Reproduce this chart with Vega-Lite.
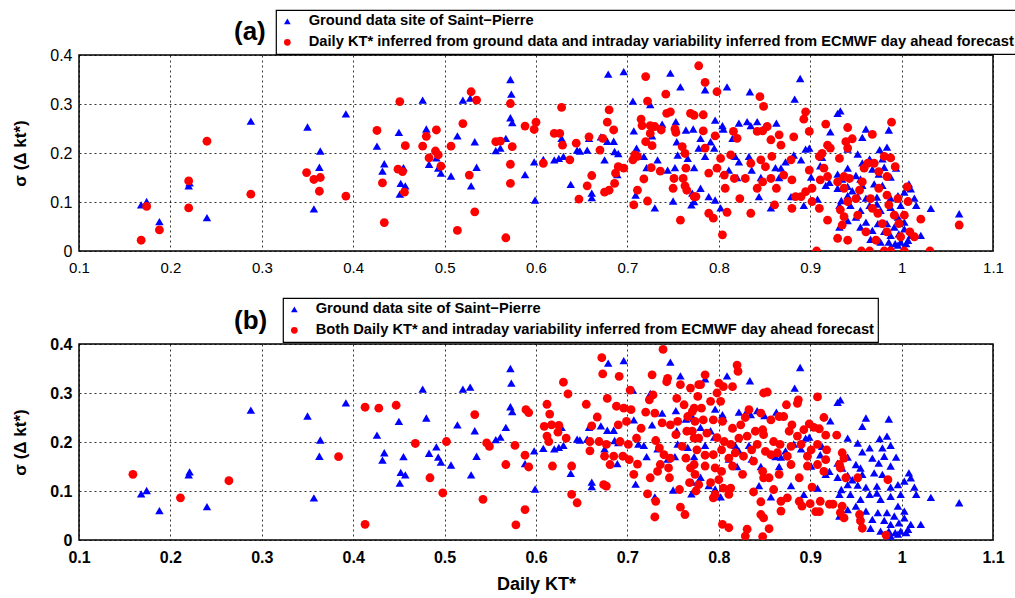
{
  "$schema": "https://vega.github.io/schema/vega-lite/v6.json",
  "padding": {"left": 11, "top": 8, "right": 0, "bottom": 0},
  "background": "white",
  "datasets": {
    "ground": [
      {"x":0.168,"y":0.094,"s":"g"},{"x":0.174,"y":0.101,"s":"g"},{"x":0.188,"y":0.060,"s":"g"},{"x":0.220,"y":0.133,"s":"g"},{"x":0.221,"y":0.139,"s":"g"},
      {"x":0.240,"y":0.068,"s":"g"},{"x":0.288,"y":0.265,"s":"g"},{"x":0.350,"y":0.253,"s":"g"},{"x":0.357,"y":0.086,"s":"g"},{"x":0.364,"y":0.204,"s":"g"},
      {"x":0.363,"y":0.171,"s":"g"},{"x":0.392,"y":0.280,"s":"g"},{"x":0.426,"y":0.214,"s":"g"},{"x":0.434,"y":0.178,"s":"g"},{"x":0.432,"y":0.163,"s":"g"},
      {"x":0.450,"y":0.242,"s":"g"},{"x":0.455,"y":0.170,"s":"g"},{"x":0.452,"y":0.138,"s":"g"},{"x":0.457,"y":0.133,"s":"g"},{"x":0.451,"y":0.116,"s":"g"},
      {"x":0.476,"y":0.308,"s":"g"},{"x":0.480,"y":0.249,"s":"g"},{"x":0.483,"y":0.177,"s":"g"},{"x":0.491,"y":0.190,"s":"g"},{"x":0.493,"y":0.169,"s":"g"},
      {"x":0.496,"y":0.159,"s":"g"},{"x":0.507,"y":0.153,"s":"g"},{"x":0.514,"y":0.235,"s":"g"},{"x":0.520,"y":0.308,"s":"g"},{"x":0.528,"y":0.312,"s":"g"},
      {"x":0.529,"y":0.133,"s":"g"},{"x":0.533,"y":0.223,"s":"g"},{"x":0.535,"y":0.171,"s":"g"},{"x":0.556,"y":0.205,"s":"g"},{"x":0.561,"y":0.210,"s":"g"},
      {"x":0.567,"y":0.230,"s":"g"},{"x":0.572,"y":0.350,"s":"g"},{"x":0.573,"y":0.320,"s":"g"},{"x":0.572,"y":0.272,"s":"g"},{"x":0.574,"y":0.262,"s":"g"},
      {"x":0.588,"y":0.156,"s":"g"},{"x":0.598,"y":0.182,"s":"g"},{"x":0.599,"y":0.104,"s":"g"},{"x":0.608,"y":0.187,"s":"g"},{"x":0.620,"y":0.186,"s":"g"},
      {"x":0.625,"y":0.189,"s":"g"},{"x":0.630,"y":0.193,"s":"g"},{"x":0.628,"y":0.230,"s":"g"},{"x":0.638,"y":0.136,"s":"g"},{"x":0.645,"y":0.206,"s":"g"},
      {"x":0.648,"y":0.204,"s":"g"},{"x":0.656,"y":0.206,"s":"g"},{"x":0.658,"y":0.230,"s":"g"},{"x":0.661,"y":0.118,"s":"g"},{"x":0.661,"y":0.109,"s":"g"},
      {"x":0.671,"y":0.233,"s":"g"},{"x":0.675,"y":0.186,"s":"g"},{"x":0.678,"y":0.224,"s":"g"},{"x":0.679,"y":0.361,"s":"g"},{"x":0.685,"y":0.224,"s":"g"},
      {"x":0.686,"y":0.203,"s":"g"},{"x":0.690,"y":0.199,"s":"g"},{"x":0.689,"y":0.156,"s":"g"},{"x":0.696,"y":0.366,"s":"g"},{"x":0.706,"y":0.306,"s":"g"},
      {"x":0.707,"y":0.245,"s":"g"},{"x":0.710,"y":0.210,"s":"g"},{"x":0.712,"y":0.196,"s":"g"},{"x":0.718,"y":0.193,"s":"g"},{"x":0.721,"y":0.170,"s":"g"},
      {"x":0.709,"y":0.114,"s":"g"},{"x":0.725,"y":0.299,"s":"g"},{"x":0.727,"y":0.235,"s":"g"},{"x":0.730,"y":0.088,"s":"g"},{"x":0.733,"y":0.186,"s":"g"},
      {"x":0.738,"y":0.259,"s":"g"},{"x":0.744,"y":0.165,"s":"g"},{"x":0.747,"y":0.363,"s":"g"},{"x":0.750,"y":0.102,"s":"g"},{"x":0.752,"y":0.170,"s":"g"},
      {"x":0.753,"y":0.264,"s":"g"},{"x":0.758,"y":0.335,"s":"g"},{"x":0.754,"y":0.223,"s":"g"},{"x":0.755,"y":0.196,"s":"g"},{"x":0.764,"y":0.247,"s":"g"},
      {"x":0.766,"y":0.189,"s":"g"},{"x":0.770,"y":0.094,"s":"g"},{"x":0.772,"y":0.249,"s":"g"},{"x":0.773,"y":0.170,"s":"g"},{"x":0.778,"y":0.210,"s":"g"},
      {"x":0.785,"y":0.329,"s":"g"},{"x":0.809,"y":0.335,"s":"g"},{"x":0.834,"y":0.325,"s":"g"},{"x":0.889,"y":0.352,"s":"g"},{"x":0.883,"y":0.310,"s":"g"},
      {"x":0.796,"y":0.267,"s":"g"},{"x":0.804,"y":0.256,"s":"g"},{"x":0.805,"y":0.249,"s":"g"},{"x":0.822,"y":0.261,"s":"g"},{"x":0.831,"y":0.264,"s":"g"},
      {"x":0.835,"y":0.256,"s":"g"},{"x":0.842,"y":0.264,"s":"g"},{"x":0.850,"y":0.254,"s":"g"},{"x":0.863,"y":0.261,"s":"g"},{"x":0.780,"y":0.230,"s":"g"},
      {"x":0.791,"y":0.223,"s":"g"},{"x":0.785,"y":0.193,"s":"g"},{"x":0.795,"y":0.210,"s":"g"},{"x":0.771,"y":0.118,"s":"g"},{"x":0.780,"y":0.128,"s":"g"},
      {"x":0.789,"y":0.111,"s":"g"},{"x":0.796,"y":0.104,"s":"g"},{"x":0.802,"y":0.088,"s":"g"},{"x":0.815,"y":0.230,"s":"g"},{"x":0.818,"y":0.193,"s":"g"},
      {"x":0.822,"y":0.182,"s":"g"},{"x":0.811,"y":0.165,"s":"g"},{"x":0.820,"y":0.150,"s":"g"},{"x":0.833,"y":0.193,"s":"g"},{"x":0.836,"y":0.165,"s":"g"},
      {"x":0.846,"y":0.150,"s":"g"},{"x":0.844,"y":0.111,"s":"g"},{"x":0.857,"y":0.088,"s":"g"},{"x":0.862,"y":0.170,"s":"g"},{"x":0.868,"y":0.169,"s":"g"},
      {"x":0.866,"y":0.150,"s":"g"},{"x":0.873,"y":0.182,"s":"g"},{"x":0.879,"y":0.111,"s":"g"},{"x":0.882,"y":0.196,"s":"g"},{"x":0.890,"y":0.186,"s":"g"},
      {"x":0.893,"y":0.093,"s":"g"},{"x":0.895,"y":0.208,"s":"g"},{"x":0.899,"y":0.210,"s":"g"},{"x":0.773,"y":0.101,"s":"g"},
      {"x":0.933,"y":0.286,"s":"g"},{"x":0.930,"y":0.281,"s":"g"},{"x":0.922,"y":0.243,"s":"g"},{"x":0.961,"y":0.249,"s":"g"},{"x":0.986,"y":0.247,"s":"g"},
      {"x":0.957,"y":0.232,"s":"g"},{"x":0.941,"y":0.208,"s":"g"},{"x":0.952,"y":0.198,"s":"g"},{"x":0.965,"y":0.188,"s":"g"},{"x":0.976,"y":0.207,"s":"g"},
      {"x":0.984,"y":0.212,"s":"g"},{"x":0.988,"y":0.193,"s":"g"},{"x":0.979,"y":0.188,"s":"g"},{"x":0.957,"y":0.180,"s":"g"},{"x":0.968,"y":0.167,"s":"g"},
      {"x":0.981,"y":0.171,"s":"g"},{"x":0.994,"y":0.169,"s":"g"},{"x":0.941,"y":0.169,"s":"g"},{"x":0.930,"y":0.157,"s":"g"},{"x":0.935,"y":0.147,"s":"g"},
      {"x":0.950,"y":0.154,"s":"g"},{"x":0.955,"y":0.147,"s":"g"},{"x":0.975,"y":0.157,"s":"g"},{"x":0.988,"y":0.151,"s":"g"},{"x":0.921,"y":0.140,"s":"g"},
      {"x":0.930,"y":0.128,"s":"g"},{"x":0.941,"y":0.132,"s":"g"},{"x":0.946,"y":0.123,"s":"g"},{"x":0.957,"y":0.134,"s":"g"},{"x":0.970,"y":0.137,"s":"g"},
      {"x":0.979,"y":0.134,"s":"g"},{"x":1.008,"y":0.137,"s":"g"},{"x":1.010,"y":0.127,"s":"g"},{"x":1.003,"y":0.120,"s":"g"},{"x":0.996,"y":0.113,"s":"g"},
      {"x":0.988,"y":0.108,"s":"g"},{"x":0.973,"y":0.110,"s":"g"},{"x":0.961,"y":0.108,"s":"g"},{"x":0.952,"y":0.112,"s":"g"},{"x":0.941,"y":0.113,"s":"g"},
      {"x":0.934,"y":0.103,"s":"g"},{"x":0.932,"y":0.093,"s":"g"},{"x":0.944,"y":0.093,"s":"g"},{"x":0.955,"y":0.083,"s":"g"},{"x":0.965,"y":0.093,"s":"g"},
      {"x":0.973,"y":0.096,"s":"g"},{"x":0.977,"y":0.083,"s":"g"},{"x":0.988,"y":0.089,"s":"g"},{"x":0.999,"y":0.093,"s":"g"},{"x":1.014,"y":0.108,"s":"g"},
      {"x":1.016,"y":0.093,"s":"g"},{"x":1.032,"y":0.087,"s":"g"},{"x":1.063,"y":0.076,"s":"g"},{"x":0.932,"y":0.049,"s":"g"},{"x":0.941,"y":0.062,"s":"g"},
      {"x":0.950,"y":0.069,"s":"g"},{"x":0.961,"y":0.059,"s":"g"},{"x":0.968,"y":0.042,"s":"g"},{"x":0.974,"y":0.056,"s":"g"},{"x":0.984,"y":0.056,"s":"g"},
      {"x":0.996,"y":0.069,"s":"g"},{"x":1.003,"y":0.059,"s":"g"},{"x":0.992,"y":0.049,"s":"g"},{"x":0.981,"y":0.040,"s":"g"},{"x":0.988,"y":0.032,"s":"g"},
      {"x":0.997,"y":0.035,"s":"g"},{"x":1.003,"y":0.045,"s":"g"},{"x":1.010,"y":0.032,"s":"g"},{"x":1.021,"y":0.032,"s":"g"},{"x":0.986,"y":0.018,"s":"g"},
      {"x":0.993,"y":0.015,"s":"g"},{"x":0.999,"y":0.018,"s":"g"},{"x":1.005,"y":0.015,"s":"g"},{"x":1.007,"y":0.022,"s":"g"},{"x":0.977,"y":0.018,"s":"g"},
      {"x":0.988,"y":0.008,"s":"g"},{"x":0.996,"y":0.012,"s":"g"},{"x":0.966,"y":0.024,"s":"g"},{"x":0.955,"y":0.049,"s":"g"},{"x":0.908,"y":0.106,"s":"g"},
      {"x":0.917,"y":0.134,"s":"g"},{"x":0.901,"y":0.151,"s":"g"},{"x":0.911,"y":0.174,"s":"g"},{"x":0.913,"y":0.191,"s":"g"}
    ],
    "estA": [
      {"x":0.168,"y":0.022,"s":"e"},{"x":0.174,"y":0.091,"s":"e"},{"x":0.188,"y":0.043,"s":"e"},{"x":0.220,"y":0.143,"s":"e"},{"x":0.220,"y":0.088,"s":"e"},
      {"x":0.240,"y":0.224,"s":"e"},{"x":0.288,"y":0.116,"s":"e"},{"x":0.349,"y":0.160,"s":"e"},{"x":0.357,"y":0.146,"s":"e"},{"x":0.364,"y":0.150,"s":"e"},
      {"x":0.363,"y":0.122,"s":"e"},{"x":0.392,"y":0.112,"s":"e"},{"x":0.426,"y":0.246,"s":"e"},{"x":0.432,"y":0.139,"s":"e"},{"x":0.434,"y":0.058,"s":"e"},
      {"x":0.451,"y":0.305,"s":"e"},{"x":0.449,"y":0.167,"s":"e"},{"x":0.454,"y":0.162,"s":"e"},{"x":0.457,"y":0.215,"s":"e"},{"x":0.456,"y":0.120,"s":"e"},
      {"x":0.476,"y":0.214,"s":"e"},{"x":0.480,"y":0.234,"s":"e"},{"x":0.483,"y":0.190,"s":"e"},{"x":0.490,"y":0.204,"s":"e"},{"x":0.493,"y":0.196,"s":"e"},
      {"x":0.491,"y":0.247,"s":"e"},{"x":0.496,"y":0.173,"s":"e"},{"x":0.507,"y":0.214,"s":"e"},{"x":0.514,"y":0.042,"s":"e"},{"x":0.520,"y":0.260,"s":"e"},
      {"x":0.527,"y":0.155,"s":"e"},{"x":0.529,"y":0.325,"s":"e"},{"x":0.535,"y":0.308,"s":"e"},{"x":0.533,"y":0.080,"s":"e"},{"x":0.556,"y":0.223,"s":"e"},
      {"x":0.561,"y":0.224,"s":"e"},{"x":0.567,"y":0.027,"s":"e"},{"x":0.572,"y":0.301,"s":"e"},{"x":0.574,"y":0.213,"s":"e"},{"x":0.572,"y":0.177,"s":"e"},
      {"x":0.572,"y":0.138,"s":"e"},{"x":0.588,"y":0.255,"s":"e"},{"x":0.598,"y":0.248,"s":"e"},{"x":0.600,"y":0.263,"s":"e"},{"x":0.608,"y":0.179,"s":"e"},
      {"x":0.620,"y":0.240,"s":"e"},{"x":0.626,"y":0.240,"s":"e"},{"x":0.628,"y":0.293,"s":"e"},{"x":0.629,"y":0.216,"s":"e"},{"x":0.637,"y":0.186,"s":"e"},
      {"x":0.644,"y":0.220,"s":"e"},{"x":0.647,"y":0.106,"s":"e"},{"x":0.656,"y":0.133,"s":"e"},{"x":0.658,"y":0.233,"s":"e"},{"x":0.661,"y":0.154,"s":"e"},
      {"x":0.670,"y":0.206,"s":"e"},{"x":0.673,"y":0.230,"s":"e"},{"x":0.675,"y":0.120,"s":"e"},{"x":0.678,"y":0.263,"s":"e"},{"x":0.680,"y":0.288,"s":"e"},
      {"x":0.680,"y":0.124,"s":"e"},{"x":0.685,"y":0.247,"s":"e"},{"x":0.686,"y":0.138,"s":"e"},{"x":0.687,"y":0.159,"s":"e"},{"x":0.690,"y":0.172,"s":"e"},
      {"x":0.696,"y":0.169,"s":"e"},{"x":0.706,"y":0.186,"s":"e"},{"x":0.708,"y":0.196,"s":"e"},{"x":0.711,"y":0.193,"s":"e"},{"x":0.711,"y":0.124,"s":"e"},
      {"x":0.707,"y":0.094,"s":"e"},{"x":0.715,"y":0.269,"s":"e"},{"x":0.716,"y":0.256,"s":"e"},{"x":0.718,"y":0.147,"s":"e"},{"x":0.720,"y":0.356,"s":"e"},
      {"x":0.722,"y":0.306,"s":"e"},{"x":0.722,"y":0.102,"s":"e"},{"x":0.720,"y":0.223,"s":"e"},{"x":0.725,"y":0.240,"s":"e"},{"x":0.727,"y":0.215,"s":"e"},
      {"x":0.725,"y":0.256,"s":"e"},{"x":0.730,"y":0.254,"s":"e"},{"x":0.726,"y":0.170,"s":"e"},{"x":0.737,"y":0.247,"s":"e"},{"x":0.736,"y":0.163,"s":"e"},
      {"x":0.742,"y":0.320,"s":"e"},{"x":0.743,"y":0.281,"s":"e"},{"x":0.747,"y":0.284,"s":"e"},{"x":0.752,"y":0.249,"s":"e"},{"x":0.751,"y":0.148,"s":"e"},
      {"x":0.750,"y":0.128,"s":"e"},{"x":0.753,"y":0.242,"s":"e"},{"x":0.758,"y":0.063,"s":"e"},{"x":0.760,"y":0.213,"s":"e"},{"x":0.763,"y":0.199,"s":"e"},
      {"x":0.764,"y":0.169,"s":"e"},{"x":0.761,"y":0.148,"s":"e"},{"x":0.763,"y":0.133,"s":"e"},{"x":0.765,"y":0.124,"s":"e"},{"x":0.769,"y":0.281,"s":"e"},
      {"x":0.773,"y":0.277,"s":"e"},{"x":0.773,"y":0.111,"s":"e"},{"x":0.778,"y":0.378,"s":"e"},
      {"x":0.785,"y":0.344,"s":"e"},{"x":0.798,"y":0.325,"s":"e"},{"x":0.845,"y":0.315,"s":"e"},{"x":0.849,"y":0.295,"s":"e"},{"x":0.895,"y":0.284,"s":"e"},
      {"x":0.893,"y":0.269,"s":"e"},{"x":0.783,"y":0.278,"s":"e"},{"x":0.783,"y":0.245,"s":"e"},{"x":0.816,"y":0.244,"s":"e"},{"x":0.820,"y":0.230,"s":"e"},
      {"x":0.785,"y":0.210,"s":"e"},{"x":0.796,"y":0.235,"s":"e"},{"x":0.802,"y":0.189,"s":"e"},{"x":0.813,"y":0.196,"s":"e"},{"x":0.798,"y":0.169,"s":"e"},
      {"x":0.789,"y":0.159,"s":"e"},{"x":0.806,"y":0.155,"s":"e"},{"x":0.817,"y":0.148,"s":"e"},{"x":0.807,"y":0.128,"s":"e"},{"x":0.775,"y":0.111,"s":"e"},
      {"x":0.789,"y":0.077,"s":"e"},{"x":0.794,"y":0.067,"s":"e"},{"x":0.809,"y":0.079,"s":"e"},{"x":0.804,"y":0.033,"s":"e"},{"x":0.823,"y":0.107,"s":"e"},
      {"x":0.835,"y":0.077,"s":"e"},{"x":0.829,"y":0.148,"s":"e"},{"x":0.835,"y":0.179,"s":"e"},{"x":0.842,"y":0.244,"s":"e"},{"x":0.848,"y":0.245,"s":"e"},
      {"x":0.853,"y":0.254,"s":"e"},{"x":0.857,"y":0.227,"s":"e"},{"x":0.858,"y":0.193,"s":"e"},{"x":0.846,"y":0.186,"s":"e"},{"x":0.851,"y":0.172,"s":"e"},
      {"x":0.842,"y":0.128,"s":"e"},{"x":0.848,"y":0.141,"s":"e"},{"x":0.857,"y":0.148,"s":"e"},{"x":0.863,"y":0.128,"s":"e"},{"x":0.861,"y":0.094,"s":"e"},
      {"x":0.866,"y":0.237,"s":"e"},{"x":0.868,"y":0.216,"s":"e"},{"x":0.871,"y":0.155,"s":"e"},{"x":0.882,"y":0.233,"s":"e"},{"x":0.879,"y":0.186,"s":"e"},
      {"x":0.880,"y":0.145,"s":"e"},{"x":0.884,"y":0.111,"s":"e"},{"x":0.890,"y":0.111,"s":"e"},{"x":0.880,"y":0.087,"s":"e"},{"x":0.895,"y":0.121,"s":"e"},
      {"x":0.899,"y":0.244,"s":"e"},{"x":0.899,"y":0.165,"s":"e"},{"x":0.902,"y":0.101,"s":"e"},{"x":0.907,"y":0.000,"s":"e"},{"x":0.910,"y":0.193,"s":"e"},
      {"x":0.913,"y":0.199,"s":"e"},{"x":0.917,"y":0.259,"s":"e"},{"x":0.919,"y":0.216,"s":"e"},{"x":0.922,"y":0.210,"s":"e"},{"x":0.915,"y":0.169,"s":"e"},
      {"x":0.919,"y":0.152,"s":"e"},{"x":0.911,"y":0.145,"s":"e"},{"x":0.910,"y":0.087,"s":"e"},{"x":0.919,"y":0.063,"s":"e"},{"x":0.930,"y":0.026,"s":"e"},
      {"x":0.941,"y":0.022,"s":"e"},{"x":0.932,"y":0.189,"s":"e"},{"x":0.939,"y":0.223,"s":"e"},{"x":0.941,"y":0.252,"s":"e"},{"x":0.946,"y":0.229,"s":"e"},
      {"x":0.941,"y":0.210,"s":"e"},{"x":0.937,"y":0.152,"s":"e"},{"x":0.943,"y":0.148,"s":"e"},{"x":0.937,"y":0.128,"s":"e"},{"x":0.941,"y":0.101,"s":"e"},
      {"x":0.933,"y":0.084,"s":"e"},{"x":0.937,"y":0.070,"s":"e"},{"x":0.935,"y":0.053,"s":"e"},{"x":0.950,"y":0.107,"s":"e"},{"x":0.952,"y":0.073,"s":"e"},
      {"x":0.961,"y":0.039,"s":"e"},{"x":0.956,"y":0.000,"s":"e"},{"x":0.965,"y":0.000,"s":"e"},{"x":0.981,"y":0.000,"s":"e"},{"x":0.988,"y":0.000,"s":"e"},
      {"x":1.003,"y":0.000,"s":"e"},{"x":1.031,"y":0.000,"s":"e"},{"x":0.968,"y":0.238,"s":"e"},{"x":0.959,"y":0.169,"s":"e"},{"x":0.963,"y":0.179,"s":"e"},
      {"x":0.970,"y":0.179,"s":"e"},{"x":0.975,"y":0.162,"s":"e"},{"x":0.975,"y":0.128,"s":"e"},{"x":0.981,"y":0.193,"s":"e"},{"x":0.988,"y":0.190,"s":"e"},
      {"x":0.989,"y":0.263,"s":"e"},{"x":0.993,"y":0.172,"s":"e"},{"x":0.984,"y":0.114,"s":"e"},{"x":0.986,"y":0.094,"s":"e"},{"x":0.992,"y":0.073,"s":"e"},
      {"x":0.974,"y":0.077,"s":"e"},{"x":0.968,"y":0.087,"s":"e"},{"x":0.979,"y":0.056,"s":"e"},{"x":0.972,"y":0.022,"s":"e"},{"x":0.984,"y":0.039,"s":"e"},
      {"x":0.997,"y":0.056,"s":"e"},{"x":1.003,"y":0.073,"s":"e"},{"x":1.006,"y":0.131,"s":"e"},{"x":1.007,"y":0.101,"s":"e"},{"x":1.009,"y":0.039,"s":"e"},
      {"x":1.014,"y":0.029,"s":"e"},{"x":1.021,"y":0.065,"s":"e"},{"x":0.999,"y":0.029,"s":"e"},{"x":1.063,"y":0.053,"s":"e"},{"x":0.957,"y":0.141,"s":"e"},
      {"x":0.954,"y":0.124,"s":"e"},{"x":0.984,"y":0.152,"s":"e"},{"x":0.996,"y":0.107,"s":"e"},{"x":0.966,"y":0.107,"s":"e"},{"x":0.902,"y":0.128,"s":"e"},
      {"x":0.930,"y":0.141,"s":"e"}
    ],
    "estB": [
      {"x":0.159,"y":0.134,"s":"e"},{"x":0.211,"y":0.086,"s":"e"},{"x":0.264,"y":0.121,"s":"e"},{"x":0.384,"y":0.170,"s":"e"},{"x":0.413,"y":0.271,"s":"e"},
      {"x":0.428,"y":0.269,"s":"e"},{"x":0.413,"y":0.032,"s":"e"},{"x":0.447,"y":0.275,"s":"e"},{"x":0.468,"y":0.197,"s":"e"},{"x":0.484,"y":0.127,"s":"e"},
      {"x":0.498,"y":0.096,"s":"e"},{"x":0.502,"y":0.201,"s":"e"},{"x":0.533,"y":0.256,"s":"e"},{"x":0.542,"y":0.083,"s":"e"},{"x":0.546,"y":0.198,"s":"e"},
      {"x":0.549,"y":0.191,"s":"e"},{"x":0.567,"y":0.154,"s":"e"},{"x":0.577,"y":0.193,"s":"e"},{"x":0.578,"y":0.031,"s":"e"},{"x":0.588,"y":0.173,"s":"e"},
      {"x":0.588,"y":0.062,"s":"e"},{"x":0.589,"y":0.266,"s":"e"},{"x":0.592,"y":0.260,"s":"e"},{"x":0.592,"y":0.149,"s":"e"},{"x":0.609,"y":0.232,"s":"e"},
      {"x":0.612,"y":0.277,"s":"e"},{"x":0.615,"y":0.257,"s":"e"},{"x":0.612,"y":0.212,"s":"e"},{"x":0.614,"y":0.201,"s":"e"},{"x":0.617,"y":0.235,"s":"e"},
      {"x":0.618,"y":0.151,"s":"e"},{"x":0.625,"y":0.234,"s":"e"},{"x":0.624,"y":0.220,"s":"e"},{"x":0.630,"y":0.322,"s":"e"},{"x":0.633,"y":0.208,"s":"e"},
      {"x":0.635,"y":0.298,"s":"e"},{"x":0.639,"y":0.151,"s":"e"},{"x":0.639,"y":0.093,"s":"e"},{"x":0.645,"y":0.076,"s":"e"},{"x":0.655,"y":0.277,"s":"e"},
      {"x":0.659,"y":0.201,"s":"e"},{"x":0.659,"y":0.182,"s":"e"},{"x":0.661,"y":0.233,"s":"e"},{"x":0.667,"y":0.251,"s":"e"},{"x":0.669,"y":0.201,"s":"e"},
      {"x":0.672,"y":0.372,"s":"e"},{"x":0.673,"y":0.339,"s":"e"},{"x":0.674,"y":0.113,"s":"e"},{"x":0.677,"y":0.110,"s":"e"},{"x":0.678,"y":0.289,"s":"e"},
      {"x":0.677,"y":0.195,"s":"e"},{"x":0.675,"y":0.171,"s":"e"},{"x":0.681,"y":0.154,"s":"e"},{"x":0.685,"y":0.171,"s":"e"},{"x":0.690,"y":0.235,"s":"e"},
      {"x":0.691,"y":0.334,"s":"e"},{"x":0.688,"y":0.273,"s":"e"},{"x":0.692,"y":0.201,"s":"e"},{"x":0.695,"y":0.171,"s":"e"},{"x":0.696,"y":0.269,"s":"e"},
      {"x":0.701,"y":0.195,"s":"e"},{"x":0.699,"y":0.242,"s":"e"},{"x":0.702,"y":0.164,"s":"e"},{"x":0.703,"y":0.306,"s":"e"},{"x":0.704,"y":0.266,"s":"e"},
      {"x":0.707,"y":0.134,"s":"e"},{"x":0.710,"y":0.208,"s":"e"},{"x":0.711,"y":0.155,"s":"e"},{"x":0.715,"y":0.228,"s":"e"},{"x":0.720,"y":0.261,"s":"e"},
      {"x":0.722,"y":0.094,"s":"e"},{"x":0.724,"y":0.286,"s":"e"},{"x":0.725,"y":0.127,"s":"e"},{"x":0.727,"y":0.337,"s":"e"},{"x":0.728,"y":0.296,"s":"e"},
      {"x":0.730,"y":0.259,"s":"e"},{"x":0.731,"y":0.203,"s":"e"},{"x":0.731,"y":0.079,"s":"e"},{"x":0.730,"y":0.047,"s":"e"},{"x":0.733,"y":0.140,"s":"e"},
      {"x":0.735,"y":0.188,"s":"e"},{"x":0.736,"y":0.154,"s":"e"},{"x":0.739,"y":0.389,"s":"e"},{"x":0.738,"y":0.239,"s":"e"},{"x":0.740,"y":0.174,"s":"e"},
      {"x":0.743,"y":0.323,"s":"e"},{"x":0.744,"y":0.330,"s":"e"},{"x":0.745,"y":0.147,"s":"e"},{"x":0.746,"y":0.127,"s":"e"},{"x":0.747,"y":0.235,"s":"e"},
      {"x":0.747,"y":0.167,"s":"e"},{"x":0.753,"y":0.215,"s":"e"},{"x":0.754,"y":0.289,"s":"e"},{"x":0.755,"y":0.242,"s":"e"},{"x":0.757,"y":0.103,"s":"e"},
      {"x":0.758,"y":0.067,"s":"e"},{"x":0.758,"y":0.317,"s":"e"},{"x":0.760,"y":0.191,"s":"e"},{"x":0.762,"y":0.276,"s":"e"},{"x":0.763,"y":0.052,"s":"e"},
      {"x":0.764,"y":0.167,"s":"e"},{"x":0.765,"y":0.222,"s":"e"},{"x":0.766,"y":0.252,"s":"e"},{"x":0.768,"y":0.117,"s":"e"},{"x":0.769,"y":0.147,"s":"e"},
      {"x":0.771,"y":0.262,"s":"e"},{"x":0.773,"y":0.208,"s":"e"},{"x":0.774,"y":0.134,"s":"e"},{"x":0.775,"y":0.100,"s":"e"},{"x":0.777,"y":0.293,"s":"e"},
      {"x":0.778,"y":0.317,"s":"e"},{"x":0.769,"y":0.310,"s":"e"},{"x":0.780,"y":0.317,"s":"e"},{"x":0.785,"y":0.337,"s":"e"},{"x":0.800,"y":0.320,"s":"e"},
      {"x":0.798,"y":0.300,"s":"e"},{"x":0.805,"y":0.313,"s":"e"},{"x":0.815,"y":0.313,"s":"e"},{"x":0.820,"y":0.357,"s":"e"},{"x":0.821,"y":0.344,"s":"e"},
      {"x":0.849,"y":0.300,"s":"e"},{"x":0.853,"y":0.302,"s":"e"},{"x":0.887,"y":0.286,"s":"e"},{"x":0.886,"y":0.279,"s":"e"},{"x":0.908,"y":0.292,"s":"e"},
      {"x":0.874,"y":0.276,"s":"e"},{"x":0.773,"y":0.269,"s":"e"},{"x":0.781,"y":0.269,"s":"e"},{"x":0.791,"y":0.283,"s":"e"},{"x":0.802,"y":0.283,"s":"e"},
      {"x":0.774,"y":0.242,"s":"e"},{"x":0.783,"y":0.245,"s":"e"},{"x":0.794,"y":0.245,"s":"e"},{"x":0.804,"y":0.242,"s":"e"},{"x":0.815,"y":0.228,"s":"e"},
      {"x":0.824,"y":0.235,"s":"e"},{"x":0.829,"y":0.250,"s":"e"},{"x":0.833,"y":0.266,"s":"e"},{"x":0.846,"y":0.259,"s":"e"},{"x":0.857,"y":0.245,"s":"e"},
      {"x":0.866,"y":0.252,"s":"e"},{"x":0.871,"y":0.252,"s":"e"},{"x":0.880,"y":0.235,"s":"e"},{"x":0.771,"y":0.222,"s":"e"},{"x":0.778,"y":0.208,"s":"e"},
      {"x":0.787,"y":0.218,"s":"e"},{"x":0.798,"y":0.209,"s":"e"},{"x":0.806,"y":0.201,"s":"e"},{"x":0.813,"y":0.195,"s":"e"},{"x":0.822,"y":0.208,"s":"e"},
      {"x":0.831,"y":0.212,"s":"e"},{"x":0.840,"y":0.222,"s":"e"},{"x":0.848,"y":0.225,"s":"e"},{"x":0.849,"y":0.215,"s":"e"},{"x":0.860,"y":0.201,"s":"e"},
      {"x":0.867,"y":0.195,"s":"e"},{"x":0.877,"y":0.222,"s":"e"},{"x":0.886,"y":0.212,"s":"e"},{"x":0.893,"y":0.225,"s":"e"},{"x":0.899,"y":0.237,"s":"e"},
      {"x":0.904,"y":0.230,"s":"e"},{"x":0.910,"y":0.227,"s":"e"},{"x":0.915,"y":0.250,"s":"e"},{"x":0.917,"y":0.214,"s":"e"},{"x":0.929,"y":0.214,"s":"e"},
      {"x":0.776,"y":0.184,"s":"e"},{"x":0.785,"y":0.173,"s":"e"},{"x":0.794,"y":0.174,"s":"e"},{"x":0.803,"y":0.184,"s":"e"},{"x":0.811,"y":0.167,"s":"e"},
      {"x":0.818,"y":0.178,"s":"e"},{"x":0.827,"y":0.171,"s":"e"},{"x":0.836,"y":0.184,"s":"e"},{"x":0.842,"y":0.195,"s":"e"},{"x":0.851,"y":0.181,"s":"e"},
      {"x":0.857,"y":0.174,"s":"e"},{"x":0.864,"y":0.178,"s":"e"},{"x":0.875,"y":0.171,"s":"e"},{"x":0.879,"y":0.191,"s":"e"},{"x":0.890,"y":0.195,"s":"e"},
      {"x":0.897,"y":0.171,"s":"e"},{"x":0.901,"y":0.184,"s":"e"},{"x":0.908,"y":0.195,"s":"e"},{"x":0.918,"y":0.184,"s":"e"},{"x":0.773,"y":0.154,"s":"e"},
      {"x":0.785,"y":0.151,"s":"e"},{"x":0.796,"y":0.147,"s":"e"},{"x":0.803,"y":0.140,"s":"e"},{"x":0.815,"y":0.151,"s":"e"},{"x":0.826,"y":0.134,"s":"e"},
      {"x":0.838,"y":0.161,"s":"e"},{"x":0.848,"y":0.140,"s":"e"},{"x":0.855,"y":0.127,"s":"e"},{"x":0.866,"y":0.134,"s":"e"},{"x":0.879,"y":0.154,"s":"e"},
      {"x":0.888,"y":0.127,"s":"e"},{"x":0.897,"y":0.151,"s":"e"},{"x":0.908,"y":0.154,"s":"e"},{"x":0.915,"y":0.140,"s":"e"},{"x":0.917,"y":0.164,"s":"e"},
      {"x":0.932,"y":0.154,"s":"e"},{"x":0.933,"y":0.147,"s":"e"},{"x":0.778,"y":0.113,"s":"e"},{"x":0.791,"y":0.117,"s":"e"},{"x":0.800,"y":0.123,"s":"e"},
      {"x":0.805,"y":0.106,"s":"e"},{"x":0.813,"y":0.106,"s":"e"},{"x":0.811,"y":0.093,"s":"e"},{"x":0.794,"y":0.086,"s":"e"},{"x":0.796,"y":0.093,"s":"e"},
      {"x":0.838,"y":0.098,"s":"e"},{"x":0.849,"y":0.127,"s":"e"},{"x":0.860,"y":0.103,"s":"e"},{"x":0.868,"y":0.079,"s":"e"},{"x":0.875,"y":0.086,"s":"e"},
      {"x":0.846,"y":0.078,"s":"e"},{"x":0.868,"y":0.059,"s":"e"},{"x":0.846,"y":0.052,"s":"e"},{"x":0.849,"y":0.045,"s":"e"},{"x":0.855,"y":0.023,"s":"e"},
      {"x":0.831,"y":0.022,"s":"e"},{"x":0.829,"y":0.008,"s":"e"},{"x":0.848,"y":0.007,"s":"e"},{"x":0.811,"y":0.025,"s":"e"},{"x":0.804,"y":0.032,"s":"e"},
      {"x":0.888,"y":0.079,"s":"e"},{"x":0.891,"y":0.069,"s":"e"},{"x":0.900,"y":0.074,"s":"e"},{"x":0.902,"y":0.108,"s":"e"},{"x":0.906,"y":0.058,"s":"e"},
      {"x":0.911,"y":0.079,"s":"e"},{"x":0.910,"y":0.058,"s":"e"},{"x":0.921,"y":0.073,"s":"e"},{"x":0.925,"y":0.073,"s":"e"},{"x":0.935,"y":0.069,"s":"e"},
      {"x":0.933,"y":0.056,"s":"e"},{"x":0.937,"y":0.045,"s":"e"},{"x":0.939,"y":0.127,"s":"e"},{"x":0.952,"y":0.127,"s":"e"},{"x":0.954,"y":0.052,"s":"e"},
      {"x":0.955,"y":0.039,"s":"e"},{"x":0.957,"y":0.024,"s":"e"},{"x":0.985,"y":0.123,"s":"e"},{"x":0.983,"y":0.010,"s":"e"},{"x":0.935,"y":0.178,"s":"e"},
      {"x":0.937,"y":0.167,"s":"e"}
    ]
  },
  "bounds": "flush",
  "spacing": 93,
  "resolve": {
    "scale": {"color": "independent", "shape": "independent"},
    "legend": {"color": "independent", "shape": "independent"}
  },
  "vconcat": [
    {
      "width": 914,
      "height": 196,
      "title": {"text": "(a)", "anchor": "start", "frame": "group", "dx": 155, "dy": 36, "offset": 0, "fontSize": 26, "fontWeight": "bold", "font": "Liberation Sans", "color": "black"},
      "encoding": {
        "x": {"field": "x", "type": "quantitative", "scale": {"domain": [0.1, 1.1], "nice": false, "zero": false},
              "axis": {"title": null, "values": [0.1,0.2,0.3,0.4,0.5,0.6,0.7,0.8,0.9,1.0,1.1], "format": ".1~f", "labelFontWeight": "normal", "labelFontSize": 15, "labelPadding": 9}},
        "y": {"field": "y", "type": "quantitative", "scale": {"domain": [0, 0.4], "nice": false, "zero": false},
              "axis": {"title": "σ (Δ kt*)", "values": [0,0.1,0.2,0.3,0.4], "format": ".1~f", "labelFontWeight": "normal", "labelFontSize": 16}},
        "color": {"field": "s", "type": "nominal", "scale": {"domain": ["g", "e"], "range": ["#0000ff", "#ff0000"]},
                  "legend": {"orient": "none", "legendX": 197, "legendY": -45, "title": null, "labelFontSize": 14.7,
                             "labelExpr": "datum.value == 'g' ? 'Ground data site of Saint−Pierre' : 'Daily KT* inferred from ground data and intraday variability inferred from ECMWF day ahead forecast'"}},
        "shape": {"field": "s", "type": "nominal", "scale": {"domain": ["g", "e"], "range": ["triangle-up", "circle"]},
                  "legend": {"orient": "none", "legendX": 197, "legendY": -45, "title": null, "labelFontSize": 14.7,
                             "labelExpr": "datum.value == 'g' ? 'Ground data site of Saint−Pierre' : 'Daily KT* inferred from ground data and intraday variability inferred from ECMWF day ahead forecast'"}}
      },
      "layer": [
        {"data": {"name": "ground"}, "mark": {"type": "point", "filled": true, "opacity": 1, "size": 72, "clip": true}},
        {"data": {"name": "estA"}, "mark": {"type": "point", "filled": true, "opacity": 1, "size": 78, "clip": true}}
      ]
    },
    {
      "width": 914,
      "height": 196,
      "title": {"text": "(b)", "anchor": "start", "frame": "group", "dx": 155, "dy": 37, "offset": 0, "fontSize": 26, "fontWeight": "bold", "font": "Liberation Sans", "color": "black"},
      "encoding": {
        "x": {"field": "x", "type": "quantitative", "scale": {"domain": [0.1, 1.1], "nice": false, "zero": false},
              "axis": {"title": "Daily KT*", "values": [0.1,0.2,0.3,0.4,0.5,0.6,0.7,0.8,0.9,1.0,1.1], "format": ".1~f", "labelFontWeight": "bold", "labelFontSize": 16, "labelPadding": 9, "titleFontSize": 18, "titlePadding": 10}},
        "y": {"field": "y", "type": "quantitative", "scale": {"domain": [0, 0.4], "nice": false, "zero": false},
              "axis": {"title": "σ (Δ kt*)", "values": [0,0.1,0.2,0.3,0.4], "format": ".1~f", "labelFontWeight": "bold", "labelFontSize": 16}},
        "color": {"field": "s", "type": "nominal", "scale": {"domain": ["g", "e"], "range": ["#0000ff", "#ff0000"]},
                  "legend": {"orient": "none", "legendX": 204, "legendY": -46, "title": null, "labelFontSize": 14.7,
                             "labelExpr": "datum.value == 'g' ? 'Ground data site of Saint−Pierre' : 'Both Daily KT* and intraday variability inferred from ECMWF day ahead forecast'"}},
        "shape": {"field": "s", "type": "nominal", "scale": {"domain": ["g", "e"], "range": ["triangle-up", "circle"]},
                  "legend": {"orient": "none", "legendX": 204, "legendY": -46, "title": null, "labelFontSize": 14.7,
                             "labelExpr": "datum.value == 'g' ? 'Ground data site of Saint−Pierre' : 'Both Daily KT* and intraday variability inferred from ECMWF day ahead forecast'"}}
      },
      "layer": [
        {"data": {"name": "ground"}, "mark": {"type": "point", "filled": true, "opacity": 1, "size": 72, "clip": true}},
        {"data": {"name": "estB"}, "mark": {"type": "point", "filled": true, "opacity": 1, "size": 78, "clip": true}}
      ]
    }
  ],
  "config": {
    "font": "Liberation Sans",
    "view": {"stroke": "black", "strokeWidth": 1.5},
    "axis": {
      "grid": true, "gridColor": "black", "gridDash": [2, 3], "gridOpacity": 1, "gridWidth": 0.8,
      "domain": false, "ticks": false, "labelFlush": false, "labelOverlap": false,
      "labelColor": "black", "labelFont": "Liberation Sans", "labelPadding": 7,
      "titleFont": "Liberation Sans", "titleFontSize": 17, "titleFontWeight": "bold", "titleColor": "black", "titlePadding": 20
    },
    "legend": {
      "labelFont": "Liberation Sans", "labelFontWeight": "bold", "labelColor": "black", "labelLimit": 900,
      "strokeColor": "black", "strokeWidth": 1.2, "fillColor": "white", "padding": 4, "symbolSize": 45, "rowPadding": 5,
      "labelOffset": 14, "symbolStrokeWidth": 0, "cornerRadius": 0
    }
  }
}
